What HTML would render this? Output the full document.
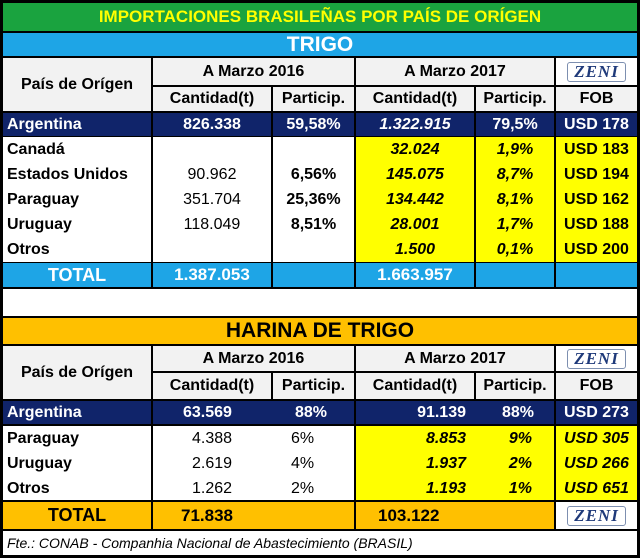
<!DOCTYPE html>
<html><head><meta charset="utf-8"><style>
body{margin:0;width:640px;height:558px;background:#000;position:relative;overflow:hidden;font-family:"Liberation Sans",Arial,sans-serif;font-weight:bold;}
.c{position:absolute;box-sizing:border-box;display:flex;align-items:center;justify-content:center;font-size:16px;color:#000;white-space:nowrap;}
.m{position:absolute;box-sizing:border-box;font-size:16px;line-height:25px;white-space:nowrap;}
.w{background:#fff}.g{background:#f2f2f2}.n{background:#10246a;color:#fff}.y{background:#ffff00}.b{background:#1ea5e6;color:#fff}.o{background:#ffc000}
.zeni{font-family:"Liberation Serif",serif;font-style:italic;font-weight:bold;color:#1f3a7a;font-size:17px;border:1px solid #7d8fb0;border-radius:3px;padding:0 6px;background:#fff;line-height:18px;letter-spacing:1px}
.p{font-weight:normal}.i{font-style:italic}
</style></head><body>
<div class="c" style="left:3px;top:3px;width:634px;height:28px;background:#1aa33f;color:#ffff00;font-size:17px">IMPORTACIONES BRASILEÑAS POR PAÍS DE ORÍGEN</div>
<div class="c b" style="left:3px;top:33px;width:634px;height:23px;font-size:21px">TRIGO</div>
<div class="c g" style="left:3px;top:58px;width:148px;height:53px">País de Orígen</div>
<div class="c g" style="left:153px;top:58px;width:201px;height:27px">A Marzo 2016</div>
<div class="c g" style="left:356px;top:58px;width:198px;height:27px">A Marzo 2017</div>
<div class="c w" style="left:556px;top:58px;width:81px;height:27px"><span class="zeni">ZENI</span></div>
<div class="c g" style="left:153px;top:87px;width:118px;height:24px">Cantidad(t)</div>
<div class="c g" style="left:273px;top:87px;width:81px;height:24px">Particip.</div>
<div class="c g" style="left:356px;top:87px;width:118px;height:24px">Cantidad(t)</div>
<div class="c g" style="left:476px;top:87px;width:78px;height:24px">Particip.</div>
<div class="c g" style="left:556px;top:87px;width:81px;height:24px">FOB</div>
<div class="c n" style="left:3px;top:113px;width:148px;height:23px;justify-content:flex-start;padding-left:4px">Argentina</div>
<div class="c n" style="left:153px;top:113px;width:118px;height:23px">826.338</div>
<div class="c n" style="left:273px;top:113px;width:81px;height:23px">59,58%</div>
<div class="c n i" style="left:356px;top:113px;width:118px;height:23px">1.322.915</div>
<div class="c n" style="left:476px;top:113px;width:78px;height:23px">79,5%</div>
<div class="c n" style="left:556px;top:113px;width:81px;height:23px">USD 178</div>
<div class="m w" style="left:3px;top:137px;width:148px;height:125px;padding-left:4px">Canadá<br>Estados Unidos<br>Paraguay<br>Uruguay<br>Otros</div>
<div class="m w p" style="left:153px;top:137px;width:118px;height:125px;text-align:center">&nbsp;<br>90.962<br>351.704<br>118.049<br>&nbsp;</div>
<div class="m w" style="left:273px;top:137px;width:81px;height:125px;text-align:center">&nbsp;<br>6,56%<br>25,36%<br>8,51%<br>&nbsp;</div>
<div class="m y i" style="left:356px;top:137px;width:118px;height:125px;text-align:center">32.024<br>145.075<br>134.442<br>28.001<br>1.500</div>
<div class="m y i" style="left:476px;top:137px;width:78px;height:125px;text-align:center">1,9%<br>8,7%<br>8,1%<br>1,7%<br>0,1%</div>
<div class="m y" style="left:556px;top:137px;width:81px;height:125px;text-align:center">USD 183<br>USD 194<br>USD 162<br>USD 188<br>USD 200</div>
<div class="c b" style="left:3px;top:263px;width:148px;height:24px;font-size:18px">TOTAL</div>
<div class="c b" style="left:153px;top:263px;width:118px;height:24px;font-size:17px">1.387.053</div>
<div class="c b" style="left:273px;top:263px;width:81px;height:24px"></div>
<div class="c b" style="left:356px;top:263px;width:118px;height:24px;font-size:17px">1.663.957</div>
<div class="c b" style="left:476px;top:263px;width:78px;height:24px"></div>
<div class="c b" style="left:556px;top:263px;width:81px;height:24px"></div>
<div class="c w" style="left:3px;top:289px;width:634px;height:27px"></div>
<div class="c o" style="left:3px;top:318px;width:634px;height:26px;font-size:21px">HARINA DE TRIGO</div>
<div class="c g" style="left:3px;top:346px;width:148px;height:53px">País de Orígen</div>
<div class="c g" style="left:153px;top:346px;width:201px;height:25px">A Marzo 2016</div>
<div class="c g" style="left:356px;top:346px;width:198px;height:25px">A Marzo 2017</div>
<div class="c w" style="left:556px;top:346px;width:81px;height:25px"><span class="zeni">ZENI</span></div>
<div class="c g" style="left:153px;top:373px;width:118px;height:26px">Cantidad(t)</div>
<div class="c g" style="left:273px;top:373px;width:81px;height:26px">Particip.</div>
<div class="c g" style="left:356px;top:373px;width:118px;height:26px">Cantidad(t)</div>
<div class="c g" style="left:476px;top:373px;width:78px;height:26px">Particip.</div>
<div class="c g" style="left:556px;top:373px;width:81px;height:26px">FOB</div>
<div class="c n" style="left:3px;top:401px;width:148px;height:23px;justify-content:flex-start;padding-left:4px">Argentina</div>
<div class="c n" style="left:153px;top:401px;width:201px;height:23px"><span style="position:absolute;left:30px">63.569</span><span style="position:absolute;left:142px">88%</span></div>
<div class="c n" style="left:356px;top:401px;width:198px;height:23px"><span style="position:absolute;right:88px">91.139</span><span style="position:absolute;right:20px">88%</span></div>
<div class="c n" style="left:556px;top:401px;width:81px;height:23px">USD 273</div>
<div class="m w" style="left:3px;top:426px;width:148px;height:74px;padding-left:4px">Paraguay<br>Uruguay<br>Otros</div>
<div class="m w p" style="left:153px;top:426px;width:201px;height:74px"><div style="position:absolute;left:0;width:118px;text-align:center">4.388<br>2.619<br>1.262</div><div style="position:absolute;left:138px">6%<br>4%<br>2%</div></div>
<div class="m y i" style="left:356px;top:426px;width:198px;height:74px"><div style="position:absolute;right:88px;text-align:right">8.853<br>1.937<br>1.193</div><div style="position:absolute;right:22px;text-align:right">9%<br>2%<br>1%</div></div>
<div class="m y i" style="left:556px;top:426px;width:81px;height:74px;text-align:center">USD 305<br>USD 266<br>USD 651</div>
<div class="c o" style="left:3px;top:502px;width:148px;height:27px;font-size:18px">TOTAL</div>
<div class="c o" style="left:153px;top:502px;width:201px;height:27px;justify-content:flex-start;padding-left:28px;font-size:17px">71.838</div>
<div class="c o" style="left:356px;top:502px;width:198px;height:27px;justify-content:flex-start;padding-left:22px;font-size:17px">103.122</div>
<div class="c w" style="left:556px;top:502px;width:81px;height:27px"><span class="zeni">ZENI</span></div>
<div class="c w i" style="left:3px;top:531px;width:634px;height:24px;justify-content:flex-start;padding-left:4px;font-weight:normal;font-size:14px">Fte.: CONAB - Companhia Nacional de Abastecimiento (BRASIL)</div>
</body></html>
